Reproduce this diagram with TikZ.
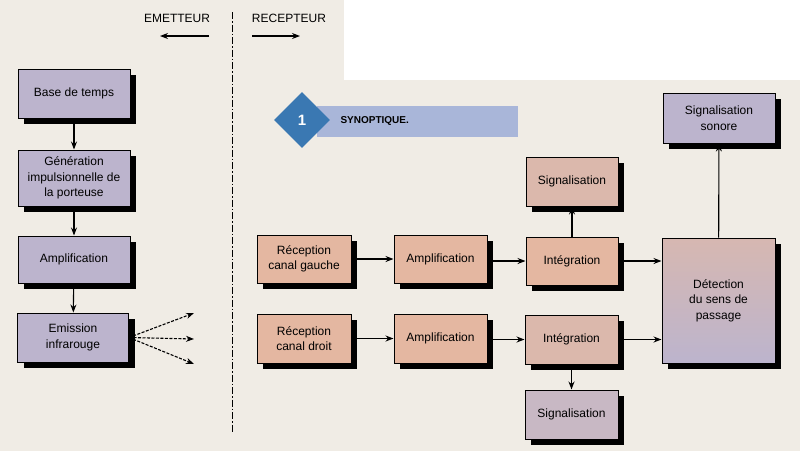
\documentclass[tikz,border=0pt]{standalone}
\usepackage{fontspec}
\setmainfont{Liberation Sans}
\usetikzlibrary{arrows.meta,shapes.geometric}

\definecolor{fond}{HTML}{F0ECE5}
\definecolor{lavande}{HTML}{BCB4CD}
\definecolor{peche}{HTML}{E4B7A1}
\definecolor{rosegris}{HTML}{DBB8AC}
\definecolor{mauve}{HTML}{C8B8C4}
\definecolor{bleuclair}{HTML}{A9B6D9}
\definecolor{bleufonce}{HTML}{3A78B2}

% #1 nom, #2 x, #3 y, #4 largeur, #5 hauteur, #6 couleur, #7 texte
\newcommand{\blocombre}[7]{%
  \fill[black] (#2-#4/2+6,#3-#5/2+6) rectangle (#2+#4/2+6,#3+#5/2+6);
  \node[bloc,#6,minimum width=#4pt,minimum height=#5pt] (#1) at (#2,#3) {#7};}

\begin{document}
\begin{tikzpicture}[x=1pt,y=-1pt,
  bloc/.style={draw=black,line width=1pt,align=center,inner sep=0pt,
    font=\fontsize{12}{15.5}\selectfont},
  fleche/.style={-{Stealth[length=8pt,width=6pt]},line width=1.1pt},
  ir/.style={fleche,dash pattern=on 3pt off 1.5pt},
  titre/.style={font=\fontsize{12}{14}\selectfont}]

% fond
\fill[fond] (0,0) rectangle (800,451);
\fill[white] (344,0) rectangle (800,80);
\useasboundingbox (0,0) rectangle (800,451);

% emetteur / recepteur
\node[titre] (emet) at (177,18) {EMETTEUR};
\node[titre] (recp) at (289,18) {RECEPTEUR};
\coordinate (e1) at (209,36);
\coordinate (e2) at (160,36);
\coordinate (r1) at (252,36);
\coordinate (r2) at (300,36);
\draw[fleche] (e1) -- (e2);
\draw[fleche] (r1) -- (r2);
\coordinate (sep1) at (232,12);
\coordinate (sep2) at (232,432);
\draw[line width=0.9pt,dash pattern=on 7pt off 2pt on 1.5pt off 2pt] (sep1) -- (sep2);

% bandeau
\fill[bleuclair] (317,106) rectangle (518,137);
\node[diamond,fill=bleufonce,minimum width=56pt,minimum height=56pt,inner sep=0pt,
  text=white,font=\bfseries\fontsize{15}{15}\selectfont] (num) at (302,120) {1};
\node[anchor=west,font=\bfseries\fontsize{10}{12}\selectfont] (synop) at (337,121) {SYNOPTIQUE.};

% emetteur
\blocombre{base}{74}{93.5}{112}{49}{fill=lavande}{Base de temps}
\blocombre{gen}{74}{178}{112}{56}{fill=lavande}{Génération\\impulsionnelle de\\la porteuse}
\blocombre{ampE}{74}{259.5}{112}{47}{fill=lavande}{Amplification}
\blocombre{emis}{73}{337.5}{111}{49}{fill=lavande}{Emission\\infrarouge}
\draw[fleche] (base) -- (gen);
\draw[fleche] (gen) -- (ampE);
\draw[fleche] (ampE) -- (emis);
\coordinate (ir1) at (194,313);
\coordinate (ir2) at (194,339);
\coordinate (ir3) at (194,364);
\draw[ir] (emis.east) -- (ir1);
\draw[ir] (emis.east) -- (ir2);
\draw[ir] (emis.east) -- (ir3);

% recepteur
\blocombre{recG}{304}{259}{94}{48}{fill=peche}{Réception\\canal gauche}
\blocombre{recD}{304}{338.5}{94}{49}{fill=peche}{Réception\\canal droit}
\blocombre{ampG}{440.5}{259}{93}{48}{fill=peche}{Amplification}
\blocombre{ampD}{440.5}{338.5}{93}{49}{fill=peche}{Amplification}
\blocombre{intG}{572}{261}{92}{48}{fill=peche}{Intégration}
\blocombre{intD}{571.5}{339.5}{93}{49}{fill=rosegris}{Intégration}
\blocombre{sigG}{572}{181.5}{92}{49}{fill=rosegris}{Signalisation}
\blocombre{sigD}{571.5}{414.5}{93}{49}{fill=mauve}{Signalisation}
\blocombre{sono}{719}{118}{112}{50}{fill=lavande}{Signalisation\\sonore}
\blocombre{det}{718.5}{300.5}{113}{125}{top color=rosegris!85!lavande,bottom color=lavande}{Détection\\du sens de\\passage}

\draw[fleche] (recG) -- (ampG);
\draw[fleche] (recD) -- (ampD);
\draw[fleche] (ampG.east |- intG) -- (intG.west);
\draw[fleche] (ampD.east |- intD) -- (intD.west);
\draw[fleche] (intG.east) -- (intG.east -| det.west);
\draw[fleche] (intD.east) -- (intD.east -| det.west);
\draw[fleche] (intG) -- (sigG);
\draw[fleche] (intD) -- (sigD);
\draw[fleche] (det) -- (sono);
\end{tikzpicture}
\end{document}
